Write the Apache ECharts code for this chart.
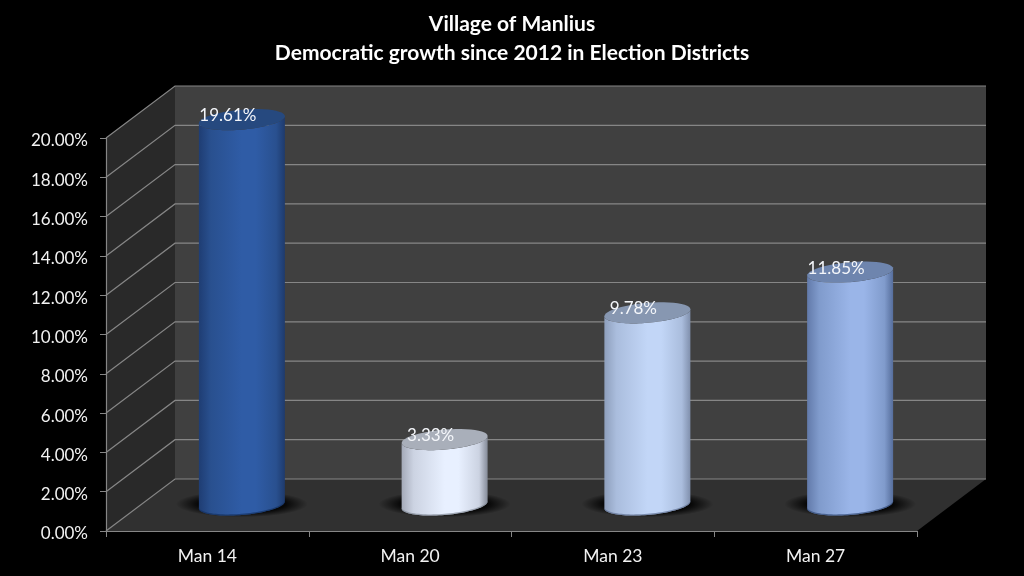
<!DOCTYPE html>
<html><head><meta charset="utf-8">
<style>html,body{margin:0;padding:0;background:#000}#c{width:1024px;height:576px}</style>
<script src="https://cdn.jsdelivr.net/npm/echarts@6/dist/echarts.min.js"></script>
</head><body><div id="c"></div>
<script>
const titleLines = ['Village of Manlius', 'Democratic growth since 2012 in Election Districts'];
const categories = ['Man 14', 'Man 20', 'Man 23', 'Man 27'];
const growth = [19.61, 3.33, 9.78, 11.85];
const gridTicks = [0, 2, 4, 6, 8, 10, 12, 14, 16, 18, 20];

const FONT = 'Lato, Carlito, sans-serif';
const DEPTH = [69, -52];
const SHADE = [
  {left:'#1f3d73', soft:'#29508f', mid:'#2f5ca6', right:'#1e3a6c', top:'#26497f', rim:'#14305f'},
  {left:'#a4aab8', soft:'#ccd3e2', mid:'#e8f0ff', right:'#858b98', top:'#a9afba', rim:'#7f8794'},
  {left:'#8e9fbc', soft:'#aabddd', mid:'#c2d6f7', right:'#8090ad', top:'#8797b1', rim:'#5d6e90'},
  {left:'#627aaa', soft:'#809bcc', mid:'#9ab5e8', right:'#566e9c', top:'#6e85ae', rim:'#2f4774'}
];
const RX = 43, RY = 10, TILT = 3.5;
const ell = (cx, cy, a, b) => {
  const p = [];
  for (let i = 0; i <= 48; i++) {
    const t = a + (b - a) * i / 48;
    p.push([cx + RX * Math.cos(t), cy + RY * Math.sin(t) - TILT * Math.cos(t)]);
  }
  return p;
};

function renderFrame(params, api) {
  const band = api.size([1, 0])[0];
  const x0 = api.coord([0, 0])[0] - band / 2;
  const x1 = x0 + band * categories.length;
  const y0 = api.coord([0, 0])[1];
  const yT = api.coord([0, 20])[1];
  const dx = DEPTH[0], dy = DEPTH[1];
  const kids = [
    {type:'polygon', shape:{points:[[x0+dx,yT+dy],[x1+dx,yT+dy],[x1+dx,y0+dy],[x0+dx,y0+dy]]},
     style:{fill:'#404040'}},
    {type:'polygon', shape:{points:[[x0,yT],[x0+dx,yT+dy],[x0+dx,y0+dy],[x0,y0]]},
     style:{fill:'#292929'}},
    {type:'polygon', shape:{points:[[x0,y0],[x0+dx,y0+dy],[x1+dx,y0+dy],[x1,y0]]},
     style:{fill:'#303030'}}
  ];
  gridTicks.forEach(v => {
    const y = api.coord([0, v])[1];
    kids.push({type:'polyline', shape:{points:[[x0,y],[x0+dx,y+dy],[x1+dx,y+dy]]},
      style:{stroke:'#868686', lineWidth:1.2, fill:null}});
  });
  return {type:'group', children:kids};
}

function renderCylinder(params, api) {
  const i = api.value(0), v = api.value(1), s = SHADE[i];
  const base = api.coord([i, 0]), top = api.coord([i, v]);
  const dx = DEPTH[0] / 2, dy = DEPTH[1] / 2;
  const cx = base[0] + dx, by = base[1] + dy, ty = top[1] + dy;
  const body = ell(cx, ty, 0, Math.PI).reverse().concat(ell(cx, by, 0, Math.PI));
  const rimBody = ell(cx, by - 1.2, 0, Math.PI).reverse().concat(ell(cx, by, 0, Math.PI));
  return {type:'group', children:[
    {type:'circle', x:cx, y:by - 1, scaleY:0.2, shape:{cx:0, cy:0, r:66},
     style:{fill:{type:'radial',x:0.5,y:0.5,r:0.5,colorStops:[
       {offset:0,color:'rgba(0,0,0,0.95)'},{offset:0.66,color:'rgba(0,0,0,0.85)'},
       {offset:0.84,color:'rgba(0,0,0,0.4)'},{offset:1,color:'rgba(0,0,0,0)'}]}}},
    {type:'polygon', shape:{points:body},
     style:{fill:{type:'linear',x:0,y:0,x2:1,y2:0,colorStops:[
       {offset:0,color:s.left},{offset:0.14,color:s.soft},{offset:0.5,color:s.mid},{offset:0.66,color:s.mid},
       {offset:0.9,color:s.soft},{offset:1,color:s.right}]}}},
    {type:'polygon', shape:{points:rimBody}, style:{fill:s.rim, opacity:0.7}},
    {type:'polygon', shape:{points:ell(cx, ty, 0, Math.PI * 2)}, style:{fill:s.top}},
    {type:'text', x:cx - 14, y:ty - 4,
     style:{text:v.toFixed(2) + '%', fill:'#f4f6fa', font:'17px ' + FONT, align:'center', verticalAlign:'middle'}}
  ]};
}

const chart = echarts.init(document.getElementById('c'), null, {renderer:'canvas'});
chart.setOption({
  backgroundColor:'#000',
  animation:false,
  title:{text:titleLines.join('\n'), left:'center', top:5,
    textStyle:{color:'#fff', fontFamily:FONT, fontWeight:'bold', fontSize:21, lineHeight:29}},
  grid:{left:106, right:107, top:138, bottom:45},
  xAxis:{type:'category', data:categories, z:5,
    axisLine:{show:true, lineStyle:{color:'#868686', width:1.2}},
    axisTick:{show:true, length:6, alignWithLabel:false, lineStyle:{color:'#868686'}},
    axisLabel:{color:'#f2f2f2', fontFamily:FONT, fontSize:17.5, margin:16}},
  yAxis:{type:'value', min:0, max:20, interval:2, z:5,
    axisLine:{show:true, lineStyle:{color:'#868686', width:1.2}},
    axisTick:{show:true, length:6, lineStyle:{color:'#868686'}},
    splitLine:{show:false},
    axisLabel:{margin:18,
      rich:{t:{color:'#f2f2f2', fontFamily:FONT, fontSize:17, lineHeight:20, padding:[6,0,0,0]}},
      formatter:v => '{t|' + v.toFixed(2) + '%}'}},
  series:[
    {type:'custom', name:'frame', z:1, silent:true, clip:false, data:[[0, 0]],
     encode:{x:0, y:1}, renderItem:renderFrame},
    {type:'custom', name:'Growth', z:3, clip:false,
     data:growth.map((v, i) => [i, v]), encode:{x:0, y:1}, renderItem:renderCylinder}
  ]
});
</script></body></html>
